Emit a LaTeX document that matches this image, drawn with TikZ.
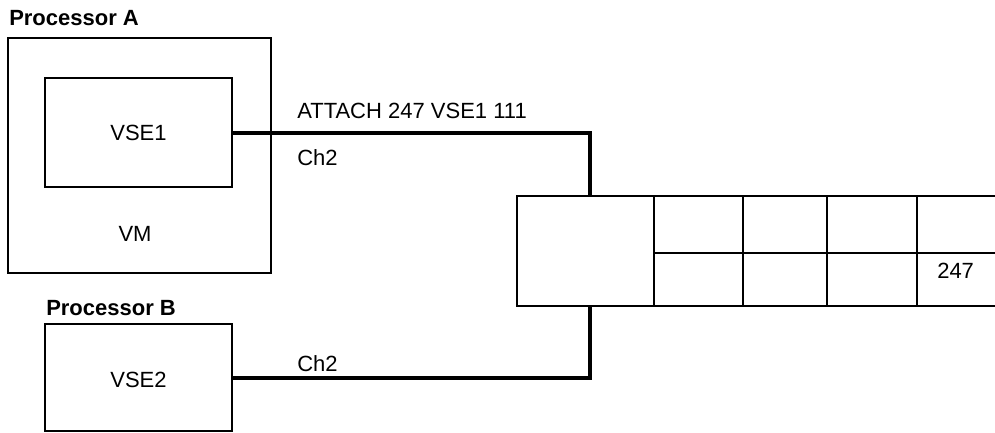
\documentclass[tikz,border=0pt]{standalone}
\usepackage{fontspec}
\setmainfont{Liberation Sans}
\begin{document}
\begin{tikzpicture}[x=0.75pt,y=-0.75pt,
  thinbox/.style={draw=black, line width=1.5pt, inner sep=0pt, font=\fontsize{16.5}{19}\selectfont},
  conn/.style={draw=black, line width=3pt},
  lab/.style={inner sep=0pt, font=\fontsize{16.5}{19}\selectfont},
  blab/.style={inner sep=0pt, font=\fontsize{16.5}{19}\selectfont\bfseries},
  cellline/.style={draw=black, line width=1.5pt}]
\useasboundingbox (0,0) rectangle (995,432);
\clip (0,0) rectangle (995,432);
% Processor A
\node[blab, anchor=base west] (pa) at (9,25) {Processor A};
\node[thinbox, minimum width=197.25pt, minimum height=176.25pt] (vm) at (139.5,155.5) {};
\node[thinbox, minimum width=140.25pt, minimum height=81.75pt] (vse1) at (138.5,132.5) {VSE1};
\node[lab, anchor=base] (vmlab) at (135,241) {VM};
% Processor B
\node[blab, anchor=base west] (pb) at (46,315) {Processor B};
\node[thinbox, minimum width=140.25pt, minimum height=80.25pt] (vse2) at (138.5,377.5) {};
\node[lab] (vse2lab) at (vse2.center) [yshift=-1.5pt] {VSE2};
% Control unit
\node[thinbox, minimum width=377.25pt, minimum height=82.5pt] (cu) at (768.5,251) {};
\draw[cellline] (654,196) -- (654,306);
\draw[cellline] (743,196) -- (743,306);
\draw[cellline] (827,196) -- (827,306);
\draw[cellline] (917,196) -- (917,306);
\draw[cellline] (654,253) -- (1010,253);
\node[lab, anchor=base west] (n247) at (937,278) {247};
% connectors
\coordinate (tA) at (590,0);
\draw[conn] (vse1.east) -| (tA |- cu.north);
\draw[conn] (vse2.east) -| (tA |- cu.south);
\node[lab, anchor=base west] (att) at (297,118) {ATTACH 247 VSE1 111};
\node[lab, anchor=base west] (ch2a) at (297,165) {Ch2};
\node[lab, anchor=base west] (ch2b) at (297,371) {Ch2};
\end{tikzpicture}
\end{document}
